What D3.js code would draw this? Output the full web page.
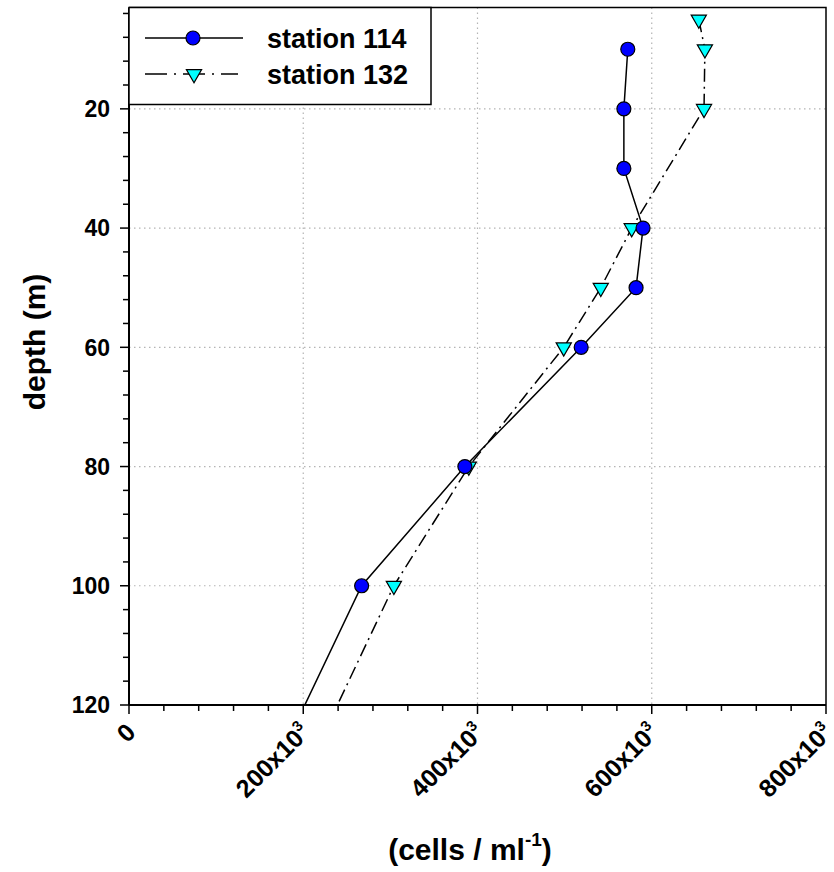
<!DOCTYPE html>
<html><head><meta charset="utf-8">
<script src="https://cdn.jsdelivr.net/npm/d3@7"></script>
<style>
html,body{margin:0;padding:0;background:#fff;}
text{font-family:"Liberation Sans",Arial,sans-serif;font-weight:bold;fill:#000;}
</style></head>
<body>
<svg id="chart" width="834" height="872"></svg>
<script>
// ---- data ----
const depth114 = [10, 20, 30, 40, 50, 60, 80, 100, 150];
const cells114 = [572500, 568000, 568000, 590000, 582000, 519000, 385500, 267000, 104000];
const depth132 = [5, 10, 20, 40, 50, 60, 80, 100, 150];
const cells132 = [654000, 661000, 660000, 577000, 541500, 499000, 390000, 304000, 142000];
const seriesNames = ["station 114", "station 132"];
const yMajorTicks = [20, 40, 60, 80, 100, 120];
const xMajorTicks = [0, 200000, 400000, 600000, 800000];
const xTickLabels = ["0", "200x10", "400x10", "600x10", "800x10"];
const xTickSup = ["", "3", "3", "3", "3"];

const svg = d3.select("#chart");
const L = 129, R = 826, T = 7.5, B = 705;
const x = d3.scaleLinear().domain([0, 800000]).range([L, R]);
const y = d3.scaleLinear().domain([3, 120]).range([T, B]);

// grid
const grid = svg.append("g").attr("stroke", "#b4b4b4").attr("stroke-width", 1.2).attr("stroke-dasharray", "1.5,3.5");
yMajorTicks.filter(d => d < 120).forEach(d => {
  grid.append("line").attr("x1", L).attr("x2", R).attr("y1", y(d)).attr("y2", y(d));
});
xMajorTicks.filter(d => d > 0 && d < 800000).forEach(d => {
  grid.append("line").attr("x1", x(d)).attr("x2", x(d)).attr("y1", T).attr("y2", B);
});

// clip
svg.append("clipPath").attr("id", "clip").append("rect").attr("x", L).attr("y", T).attr("width", R - L).attr("height", B - T);

const data114 = depth114.map((d, i) => ({d, v: cells114[i]}));
const data132 = depth132.map((d, i) => ({d, v: cells132[i]}));
const line = d3.line().x(p => x(p.v)).y(p => y(p.d));

const plot = svg.append("g").attr("clip-path", "url(#clip)");
plot.append("path").attr("d", line(data114)).attr("fill", "none").attr("stroke", "#000").attr("stroke-width", 1.5);
plot.append("path").attr("d", line(data132)).attr("fill", "none").attr("stroke", "#000").attr("stroke-width", 1.5)
  .attr("stroke-dasharray", "13,5,2,5");

const tri = d3.symbol().type(d3.symbolTriangle).size(100);
function drawCircle(g, cx, cy) {
  g.append("circle").attr("cx", cx).attr("cy", cy).attr("r", 7).attr("fill", "#0000ff").attr("stroke", "#000").attr("stroke-width", 1.2);
}
function drawTri(g, cx, cy) {
  g.append("path").attr("d", tri()).attr("transform", `translate(${cx},${cy}) rotate(180)`)
    .attr("fill", "#00ffff").attr("stroke", "#000").attr("stroke-width", 1.2);
}
data132.forEach(p => drawTri(plot, x(p.v), y(p.d)));
data114.forEach(p => drawCircle(plot, x(p.v), y(p.d)));

// frame (top, right)
svg.append("path").attr("d", `M${L},${T}H${R}V${B}`).attr("fill", "none").attr("stroke", "#000").attr("stroke-width", 1.5);

// y axis
const yAxis = svg.append("g").attr("transform", `translate(${L},0)`);
yAxis.append("line").attr("x1", 0).attr("x2", 0).attr("y1", T).attr("y2", B).attr("stroke", "#000").attr("stroke-width", 2);
d3.range(4, 120, 4).filter(d => d % 20 !== 0).forEach(d => {
  yAxis.append("line").attr("x1", -6).attr("x2", 0).attr("y1", y(d)).attr("y2", y(d)).attr("stroke", "#000").attr("stroke-width", 1.5);
});
yMajorTicks.forEach(d => {
  yAxis.append("line").attr("x1", -9).attr("x2", 0).attr("y1", y(d)).attr("y2", y(d)).attr("stroke", "#000").attr("stroke-width", 1.5);
  yAxis.append("text").attr("x", -19).attr("y", y(d)).attr("dy", "0.36em").attr("text-anchor", "end")
    .attr("font-size", 23).text(d);
});

// x axis
const xAxis = svg.append("g").attr("transform", `translate(0,${B})`);
xAxis.append("line").attr("x1", L).attr("x2", R).attr("y1", 0).attr("y2", 0).attr("stroke", "#000").attr("stroke-width", 2);
d3.range(40000, 800000, 40000).filter(d => d % 200000 !== 0).forEach(d => {
  xAxis.append("line").attr("x1", x(d)).attr("x2", x(d)).attr("y1", 0).attr("y2", 6).attr("stroke", "#000").attr("stroke-width", 1.5);
});
xMajorTicks.forEach((d, i) => {
  xAxis.append("line").attr("x1", x(d)).attr("x2", x(d)).attr("y1", 0).attr("y2", 9).attr("stroke", "#000").attr("stroke-width", 1.5);
  const t = xAxis.append("text").attr("transform", `translate(${x(d) + 8},${29}) rotate(-45)`)
    .attr("text-anchor", "end").attr("font-size", 25);
  t.append("tspan").text(xTickLabels[i]);
  if (xTickSup[i]) t.append("tspan").attr("font-size", 15).attr("dy", "-0.7em").text(xTickSup[i]);
});

// axis titles
svg.append("text").attr("transform", `translate(45,342) rotate(-90)`).attr("text-anchor", "middle")
  .attr("font-size", 30).text("depth (m)");
const xt = svg.append("text").attr("x", 470).attr("y", 860).attr("text-anchor", "middle").attr("font-size", 30);
xt.append("tspan").text("(cells / ml");
xt.append("tspan").attr("font-size", 19).attr("dy", "-0.75em").text("-1");
xt.append("tspan").attr("dy", "0.47em").text(")");

// legend
const lg = svg.append("g");
lg.append("rect").attr("x", L).attr("y", T).attr("width", 302).attr("height", 97)
  .attr("fill", "#fff").attr("stroke", "#000").attr("stroke-width", 1.5);
lg.append("line").attr("x1", 145).attr("x2", 243).attr("y1", 38).attr("y2", 38).attr("stroke", "#000").attr("stroke-width", 1.5);
drawCircle(lg, 193, 38);
lg.append("line").attr("x1", 145).attr("x2", 238).attr("y1", 74).attr("y2", 74).attr("stroke", "#000").attr("stroke-width", 1.5)
  .attr("stroke-dasharray", "22,7,2,7");
drawTri(lg, 194, 74);
lg.append("text").attr("x", 267).attr("y", 38).attr("dy", "0.36em").attr("font-size", 27).text(seriesNames[0]);
lg.append("text").attr("x", 267).attr("y", 74).attr("dy", "0.36em").attr("font-size", 27).text(seriesNames[1]);
</script>
</body></html>
